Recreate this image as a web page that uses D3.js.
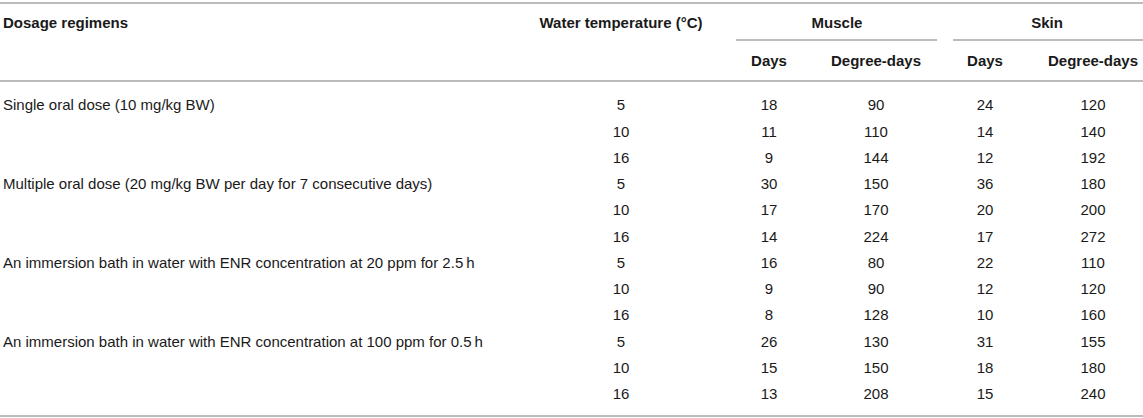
<!DOCTYPE html>
<html>
<head>
<meta charset="utf-8">
<script src="https://cdn.jsdelivr.net/npm/d3@7"></script>
<style>
  body { margin: 0; background: #fff; }
  svg text { font-family: "Liberation Sans", Arial, Helvetica, sans-serif; fill: #1a1a1a; }
</style>
</head>
<body>
<div id="table"></div>
<script>
// table contents
var regimens = [
  "Single oral dose (10 mg/kg BW)",
  "Multiple oral dose (20 mg/kg BW per day for 7 consecutive days)",
  "An immersion bath in water with ENR concentration at 20 ppm for 2.5\u2009h",
  "An immersion bath in water with ENR concentration at 100 ppm for 0.5\u2009h"
];
var temps = [5, 10, 16];
var muscleDays = [18, 11, 9, 30, 17, 14, 16, 9, 8, 26, 15, 13];
var muscleDegreeDays = [90, 110, 144, 150, 170, 224, 80, 90, 128, 130, 150, 208];
var skinDays = [24, 14, 12, 36, 20, 17, 22, 12, 10, 31, 18, 15];
var skinDegreeDays = [120, 140, 192, 180, 200, 272, 110, 120, 160, 155, 180, 240];

var groupHeaders = ["Muscle", "Skin"];
var subHeaders = ["Days", "Degree-days", "Days", "Degree-days"];

window.onload = function()
{
  drawTable();
}

function drawTable()
{
  var width = 1143, height = 418;
  var lineColor = "#a6a6a6";
  var fontSize = 15;

  var svg = d3.select("#table")
    .append("svg")
      .attr("width", width)
      .attr("height", height);

  // build rows
  var rows = [];
  for (var i = 0; i < muscleDays.length; i++) {
    rows.push({
      regimen: i % 3 == 0 ? regimens[i / 3] : "",
      temp: temps[i % 3],
      mDays: muscleDays[i],
      mDD: muscleDegreeDays[i],
      sDays: skinDays[i],
      sDD: skinDegreeDays[i]
    });
  }

  var y = d3.scalePoint()
    .domain(d3.range(rows.length))
    .range([105, 394]);

  var colCenter = {temp: 621, mDays: 769, mDD: 876, sDays: 985, sDD: 1093};

  // rules
  function hline(x1, x2, yy) {
    svg.append("line")
      .attr("x1", x1).attr("x2", x2)
      .attr("y1", yy).attr("y2", yy)
      .style("stroke", lineColor)
      .style("stroke-width", 1.5);
  }
  hline(0, width, 3);
  hline(0, width, 81);
  hline(0, width, 416);
  hline(736, 937, 40);
  hline(953, width, 40);

  // header
  var head = svg.append("g").style("font-weight", "bold").style("font-size", fontSize + "px");
  head.append("text").attr("x", 3).attr("y", 23).attr("dy", "0.35em").text("Dosage regimens");
  head.append("text").attr("x", colCenter.temp).attr("y", 23).attr("dy", "0.35em")
    .attr("text-anchor", "middle").text("Water temperature (\u00b0C)");
  head.selectAll(".grp")
    .data(groupHeaders)
    .enter().append("text")
      .attr("class", "grp")
      .attr("x", function(d, i) { return i == 0 ? 837 : 1047; })
      .attr("y", 23).attr("dy", "0.35em")
      .attr("text-anchor", "middle")
      .text(function(d) { return d; });
  var subX = [colCenter.mDays, colCenter.mDD, colCenter.sDays, colCenter.sDD];
  head.selectAll(".sub")
    .data(subHeaders)
    .enter().append("text")
      .attr("class", "sub")
      .attr("x", function(d, i) { return subX[i]; })
      .attr("y", 61).attr("dy", "0.35em")
      .attr("text-anchor", "middle")
      .text(function(d) { return d; });

  // body
  var body = svg.append("g").style("font-size", fontSize + "px");
  var row = body.selectAll(".row")
    .data(rows)
    .enter().append("g")
      .attr("class", "row")
      .attr("transform", function(d, i) { return "translate(0," + y(i) + ")"; });

  row.append("text")
    .attr("x", 3).attr("dy", "0.35em")
    .text(function(d) { return d.regimen; });

  ["temp", "mDays", "mDD", "sDays", "sDD"].forEach(function(key) {
    row.append("text")
      .attr("x", colCenter[key])
      .attr("dy", "0.35em")
      .attr("text-anchor", "middle")
      .text(function(d) { return d[key]; });
  });
}
</script>
</body>
</html>
